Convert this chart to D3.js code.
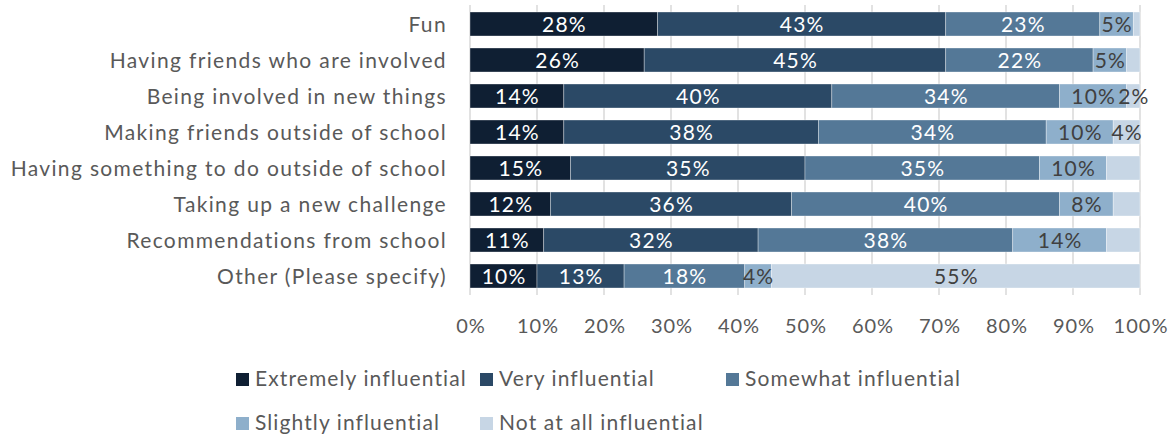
<!DOCTYPE html>
<html>
<head>
<meta charset="utf-8">
<script src="https://cdn.jsdelivr.net/npm/d3@7"></script>
<style>
  html, body { margin: 0; padding: 0; background: #ffffff; }
  svg { display: block; }
  text { font-family: Lato, "Open Sans", sans-serif; }
</style>
</head>
<body>
<svg id="chart" width="1172" height="437"></svg>
<script>
const categories = [
  "Fun",
  "Having friends who are involved",
  "Being involved in new things",
  "Making friends outside of school",
  "Having something to do outside of school",
  "Taking up a new challenge",
  "Recommendations from school",
  "Other (Please specify)"
];
const seriesNames = [
  "Extremely influential",
  "Very influential",
  "Somewhat influential",
  "Slightly influential",
  "Not at all influential"
];
const extremely = [28, 26, 14, 14, 15, 12, 11, 10];
const very      = [43, 45, 40, 38, 35, 36, 32, 13];
const somewhat  = [23, 22, 34, 34, 35, 40, 38, 18];
const slightly  = [5, 5, 10, 10, 10, 8, 14, 4];
const notAtAll  = [1, 2, 2, 4, 5, 4, 5, 55];
// labels shown in the source chart for "Not at all influential" (blank where none was printed)
const notAtAllLabels = ["", "", "2%", "4%", "", "", "", "55%"];
const tickValues = [0, 10, 20, 30, 40, 50, 60, 70, 80, 90, 100];

const colors = ["#0f1f33", "#2b4966", "#547897", "#8eafcb", "#c7d6e5"];
const labelColors = ["#ffffff", "#ffffff", "#ffffff", "#404040", "#404040"];
const seriesValues = [extremely, very, somewhat, slightly, notAtAll];

const svg = d3.select("#chart");
const plotLeft = 470, plotRight = 1140, plotTop = 6, plotBottom = 294;

const x = d3.scaleLinear().domain([0, 100]).range([plotLeft, plotRight]);
const y = d3.scaleBand().domain(categories).range([plotTop, plotBottom])
  .paddingInner(1/3).paddingOuter(1/6);

// gridlines
svg.append("g").selectAll("line").data(tickValues).join("line")
  .attr("x1", d => x(d)).attr("x2", d => x(d))
  .attr("y1", plotTop - 1).attr("y2", plotBottom + 1)
  .attr("stroke", "#d9d9d9").attr("stroke-width", 1.5);

// stacked data
const rows = categories.map((c, i) => {
  let acc = 0;
  return seriesValues.map((arr, s) => {
    const v = arr[i];
    const seg = { cat: c, s, x0: acc, x1: acc + v, v,
      label: s === 4 ? notAtAllLabels[i] : v + "%" };
    acc += v;
    return seg;
  });
});
const segs = rows.flat();

svg.append("g").selectAll("rect").data(segs).join("rect")
  .attr("x", d => x(d.x0))
  .attr("y", d => y(d.cat))
  .attr("width", d => Math.max(0, Math.min(x(d.x1), plotRight) - x(d.x0)))
  .attr("height", y.bandwidth())
  .attr("fill", d => colors[d.s])
  .attr("stroke", "rgba(255,255,255,0.45)")
  .attr("stroke-width", 0.75);

svg.append("g").selectAll("text").data(segs.filter(d => d.label)).join("text")
  .attr("x", d => x((d.x0 + d.x1) / 2) + 0.6)
  .attr("y", d => y(d.cat) + y.bandwidth() / 2)
  .attr("dy", "0.36em")
  .attr("text-anchor", "middle")
  .attr("font-size", 21)
  .attr("letter-spacing", 1.2)
  .attr("fill", d => labelColors[d.s])
  .text(d => d.label);

// category axis
svg.append("g").selectAll("text").data(categories).join("text")
  .attr("x", 447)
  .attr("y", d => y(d) + y.bandwidth() / 2)
  .attr("dy", "0.36em")
  .attr("text-anchor", "end")
  .attr("font-size", 21)
  .attr("letter-spacing", 1.35)
  .attr("fill", "#595959")
  .text(d => d);

// x axis labels
const xAxis = d3.axisBottom(x).tickValues(tickValues).tickSize(0).tickPadding(0)
  .tickFormat(d => d + "%");
const gx = svg.append("g").attr("transform", `translate(0, ${plotBottom + 39})`).call(xAxis);
gx.select(".domain").remove();
gx.selectAll("text").attr("font-size", 20).attr("fill", "#595959")
  .attr("font-family", "Lato, sans-serif").attr("letter-spacing", 1)
  .attr("dx", 0.5).attr("dy", 0);

// legend
const legendPos = [
  { x: 236, y: 386 }, { x: 480, y: 386 }, { x: 726, y: 386 },
  { x: 236, y: 430 }, { x: 480, y: 430 }
];
const lg = svg.append("g").selectAll("g").data(seriesNames).join("g")
  .attr("transform", (d, i) => `translate(${legendPos[i].x}, ${legendPos[i].y})`);
lg.append("rect").attr("x", 0).attr("y", -13).attr("width", 13).attr("height", 13)
  .attr("fill", (d, i) => colors[i]);
lg.append("text").attr("x", 19).attr("y", 0)
  .attr("font-size", 21).attr("letter-spacing", 1.1)
  .attr("fill", "#595959").text(d => d);
</script>
</body>
</html>
